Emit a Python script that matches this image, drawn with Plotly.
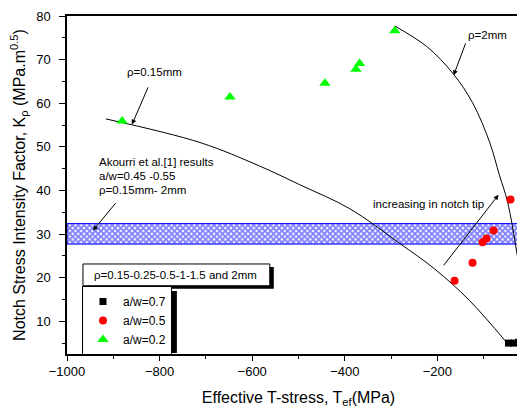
import plotly.graph_objects as go

# ---------------- data ----------------
aw07_x = [-46.4, -35.6, -24.8, -16.2]
aw07_y = [5.0, 5.0, 5.2, 6.8]

aw05_x = [-162.9, -124.1, -102.5, -93.9, -78.7, -42.1]
aw05_y = [19.3, 23.4, 28.1, 29.0, 30.8, 37.9]

aw02_x = [-881, -648, -443, -376, -368, -292]
aw02_y = [55.9, 61.4, 64.6, 67.8, 69.1, 76.6]

rho015_x = [-916, -713, -584, -497, -389, -282, -206, -131, -51]
rho015_y = [56.4, 51.0, 45.6, 41.3, 35.8, 27.9, 22.0, 14.8, 5.2]

rho2_x = [-292, -223, -167, -124, -87, -66, -48.5, -29, -22.7, -16.2]
rho2_y = [77.7, 73.0, 66.9, 60.1, 51.0, 43.5, 37.4, 26.1, 21.6, 7.3]

band_low, band_high = 27.7, 32.4
x_range = [-1000, 0]
y_range = [2.5, 80]

FONT = "Arial, Liberation Sans, sans-serif"

# page geometry (the page body adds an 8px offset)
PL, PW, PB, PH = 67, 463.5, 354, 338   # plot left, width, bottom, height in page px


def px_x(p):
    return (p - PL) / PW


def px_y(p):
    return (PB - p) / PH


fig = go.Figure()

# hatched band (Akourri et al. results)
fig.add_trace(go.Scatter(
    x=[x_range[0], x_range[1], x_range[1], x_range[0], x_range[0]],
    y=[band_low, band_low, band_high, band_high, band_low],
    mode="lines", fill="toself",
    line=dict(color="#0000ff", width=1),
    fillcolor="rgba(0,0,0,0)",
    fillpattern=dict(shape="x", fgcolor="#0000ff", bgcolor="white", size=4, solidity=0.7),
    showlegend=False, hoverinfo="skip"))

# curves
fig.add_trace(go.Scatter(x=rho015_x, y=rho015_y, mode="lines", line=dict(color="black", width=1, shape="spline"),
                         showlegend=False))
fig.add_trace(go.Scatter(x=rho2_x, y=rho2_y, mode="lines", line=dict(color="black", width=1, shape="spline"),
                         showlegend=False))

# markers
fig.add_trace(go.Scatter(x=aw07_x, y=aw07_y, mode="markers", name="a/w=0.7",
                         marker=dict(symbol="square", color="black", size=7)))
fig.add_trace(go.Scatter(x=aw05_x, y=aw05_y, mode="markers", name="a/w=0.5",
                         marker=dict(symbol="circle", color="#ff0000", size=8)))
fig.add_trace(go.Scatter(x=aw02_x, y=aw02_y, mode="markers", name="a/w=0.2",
                         marker=dict(symbol="triangle-up", color="#00ff00", size=10)))

ann_font = dict(family=FONT, size=11.5, color="black")
arr = dict(showarrow=True, arrowhead=2, arrowsize=1, arrowwidth=1, arrowcolor="black")
annotations = [
    dict(x=-859.8, y=55.1, ax=23, ay=-53, text="ρ=0.15mm", font=ann_font, startstandoff=9, **arr),
    dict(x=-165, y=66.4, ax=12, ay=-32, text="ρ=2mm", font=ann_font, xanchor="left", yanchor="bottom", **arr),
    dict(x=-935, y=80 - 148 / 4.414, text="Akourri et al.[1] results", showarrow=False, xanchor="left", font=ann_font),
    dict(x=-935, y=80 - 162 / 4.414, text="a/w=0.45 -0.55", showarrow=False, xanchor="left", font=ann_font),
    dict(x=-935, y=80 - 176 / 4.414, text="ρ=0.15mm- 2mm", showarrow=False, xanchor="left", font=ann_font),
    dict(x=-944, y=30.8, ax=24, ay=-29, text="", **arr),
    dict(x=-219, y=37.0, text="increasing in notch tip", showarrow=False, font=ann_font),
    dict(x=-68, y=39.0, ax=-56, ay=72, text="", **arr),
    dict(x=-765, y=20.6, text="ρ=0.15-0.25-0.5-1-1.5 and 2mm", showarrow=False, font=ann_font),
]

shapes = [
    # box shadow + box for the rho text
    dict(type="rect", xref="x", yref="y", x0=-957, x1=-553.4, y0=17.47, y1=22.46,
         fillcolor="black", line=dict(width=0), layer="above"),
    dict(type="rect", xref="x", yref="y", x0=-965.5, x1=-562, y0=18.15, y1=23.14,
         fillcolor="white", line=dict(color="black", width=1), layer="above"),
    # legend shadow
    dict(type="rect", xref="paper", yref="paper",
         x0=px_x(87), x1=px_x(177), y0=px_y(353), y1=px_y(291),
         fillcolor="black", line=dict(width=0), layer="above"),
]

fig.update_layout(
    width=525, height=409,
    margin=dict(l=59, r=2.5, t=8, b=63, autoexpand=False),
    paper_bgcolor="white", plot_bgcolor="white",
    font=dict(family=FONT, size=13, color="black"),
    showlegend=True,
    legend=dict(x=px_x(82), y=px_y(286), xanchor="left", yanchor="top",
                bgcolor="white", bordercolor="black", borderwidth=1,
                font=dict(family=FONT, size=12, color="black"), itemwidth=30),
    annotations=annotations,
    shapes=shapes,
)

fig.update_xaxes(
    range=x_range, showgrid=False, zeroline=False, automargin=False,
    showline=True, linecolor="black", linewidth=1.5, mirror=True,
    ticks="outside", ticklen=5, tickwidth=1, tickcolor="black",
    tick0=0, dtick=200,
    minor=dict(ticks="outside", ticklen=3, dtick=100, tickcolor="black"),
    tickfont=dict(size=13),
    title=dict(text="Effective T-stress, T<sub>ef</sub>(MPa)", font=dict(size=16), standoff=13),
)
fig.update_yaxes(
    range=y_range, showgrid=False, zeroline=False, automargin=False,
    showline=True, linecolor="black", linewidth=1.5, mirror=False,
    ticks="outside", ticklen=6, tickwidth=1, tickcolor="black",
    tick0=0, dtick=10, ticklabelstandoff=6,
    minor=dict(ticks="outside", ticklen=3, dtick=5, tickcolor="black"),
    tickfont=dict(size=13),
    title=dict(text="Notch Stress Intensity Factor, K<sub>ρ</sub> (MPa.m<sup>0.5</sup>)", font=dict(size=16)),
)

fig.write_html("out.html")
